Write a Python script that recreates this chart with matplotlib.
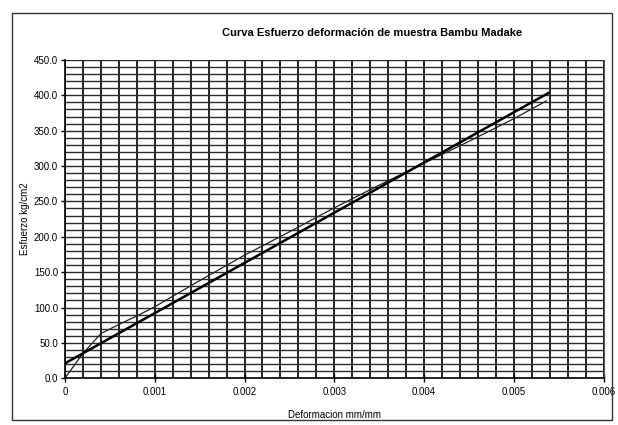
import matplotlib
matplotlib.use("Agg")
import matplotlib.pyplot as plt
from matplotlib.patches import Rectangle
from matplotlib.ticker import MultipleLocator, FuncFormatter

# Measured stress-strain curve
strain_measured = [0.0, 0.0002, 0.0004, 0.0006, 0.0008, 0.0010, 0.0015, 0.0020,
                   0.0025, 0.0030, 0.0035, 0.0040, 0.0045, 0.0050, 0.00536]
stress_measured = [0.0, 35.0, 63.0, 76.0, 88.0, 101.0, 138.0, 174.0,
                   207.0, 241.0, 273.0, 304.0, 335.0, 367.0, 392.0]

# Linear fit of the curve
strain_fit = [0.0, 0.00538]
stress_fit = [21.0, 403.0]

x_ticks = [0, 0.001, 0.002, 0.003, 0.004, 0.005, 0.006]
x_tick_labels = ["0", "0.001", "0.002", "0.003", "0.004", "0.005", "0.006"]

plt.rcParams['font.family'] = ['Liberation Sans', 'DejaVu Sans']

fig = plt.figure(figsize=(6.18, 4.25), dpi=100)
ax = fig.add_axes([0.105, 0.110, 0.872, 0.749])

ax.plot(strain_measured, stress_measured, color="#222222", lw=0.9, zorder=3)
ax.plot(strain_fit, stress_fit, color="black", lw=1.8, zorder=4)

ax.set_xlim(0, 0.006)
ax.set_ylim(0, 450)
ax.set_xticks(x_ticks)
ax.set_xticklabels(x_tick_labels)
ax.xaxis.set_minor_locator(MultipleLocator(0.0002))
ax.yaxis.set_major_locator(MultipleLocator(50))
ax.yaxis.set_minor_locator(MultipleLocator(10))
ax.yaxis.set_major_formatter(FuncFormatter(lambda v, p: f"{v:.1f}"))

ax.grid(axis="x", which="both", color="#111111", lw=1.3, zorder=1)
ax.grid(axis="y", which="both", color="#2a2a2a", lw=1.0, zorder=1)
ax.set_axisbelow(True)

ax.tick_params(axis="x", which="major", direction="inout", length=6, labelsize=7, pad=3, width=1)
ax.tick_params(axis="x", which="minor", length=0)
ax.tick_params(axis="y", which="major", direction="out", length=3, labelsize=7, pad=2, width=1)
ax.tick_params(axis="y", which="minor", length=0)

ax.spines["top"].set_visible(False)
ax.spines["right"].set_linestyle((0, (2, 1)))
ax.spines["right"].set_color("#555555")
ax.spines["left"].set_linewidth(1.2)
ax.spines["bottom"].set_linewidth(1.2)

ax.set_xlabel("Deformacion mm/mm", fontsize=7)
ax.set_ylabel("Esfuerzo kg/cm2", fontsize=7)
ax.xaxis.set_label_coords(0.5, -0.10)
ax.yaxis.set_label_coords(-0.065, 0.5)

fig.text(372 / 618, 1 - 33 / 425, "Curva Esfuerzo deformación de muestra Bambu Madake",
         ha="center", va="center", fontsize=8, fontweight="bold")

# Chart area border
fig.patches.append(Rectangle((12 / 618, 1 - 420 / 425), 600 / 618, 407 / 425,
                             transform=fig.transFigure, fill=False,
                             edgecolor="#333333", lw=1.0))

fig.savefig("out.png", dpi=100)
